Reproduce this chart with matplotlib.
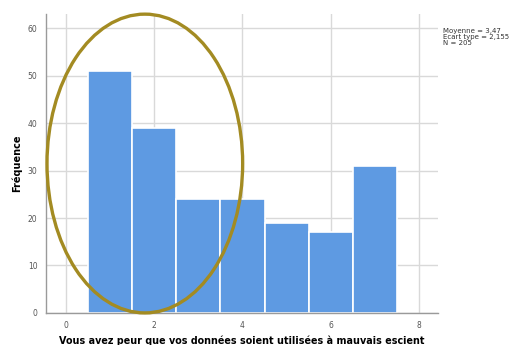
import matplotlib.pyplot as plt
from matplotlib.patches import Ellipse

# values 1..7 of the answer scale and their counts
values = [1, 2, 3, 4, 5, 6, 7]
counts = [51, 39, 24, 24, 19, 17, 31]
stats_text = "Moyenne = 3,47\nEcart type = 2,155\nN = 205"

fig = plt.figure(figsize=(5.1, 3.45), dpi=100)
ax = fig.add_axes([0.090, 0.093, 0.769, 0.866])

ax.bar(values, counts, width=1.0, color="#5e9ae2", edgecolor="white",
       linewidth=1.2, zorder=2)

ax.set_xlim(-0.45, 8.43)
ax.set_ylim(0, 63)
ax.set_xticks([0, 2, 4, 6, 8])
ax.set_yticks([0, 10, 20, 30, 40, 50, 60])
ax.grid(True, color="#d9d9d9", linewidth=1.0, zorder=0)
ax.set_axisbelow(True)

for s in ["top", "right"]:
    ax.spines[s].set_visible(False)
for s in ["left", "bottom"]:
    ax.spines[s].set_color("#9a9a9a")
    ax.spines[s].set_linewidth(1.0)
ax.tick_params(length=0, labelsize=5.5, labelcolor="#555555", pad=6)

ax.set_ylabel("Fréquence", fontsize=7, fontweight="bold", labelpad=4)
ax.set_xlabel("Vous avez peur que vos données soient utilisées à mauvais escient",
              fontsize=6.9, fontweight="bold", labelpad=3.5)

# highlight ellipse
ell = Ellipse((1.79, 31.5), 4.43, 63, fill=False, edgecolor="#a38b22",
              linewidth=2.4, clip_on=False, zorder=5)
ax.add_patch(ell)

fig.text(0.869, 0.918, stats_text, fontsize=5, color="#333333",
         va="top", ha="left", linespacing=0.95)

fig.savefig("out.png", dpi=100)
